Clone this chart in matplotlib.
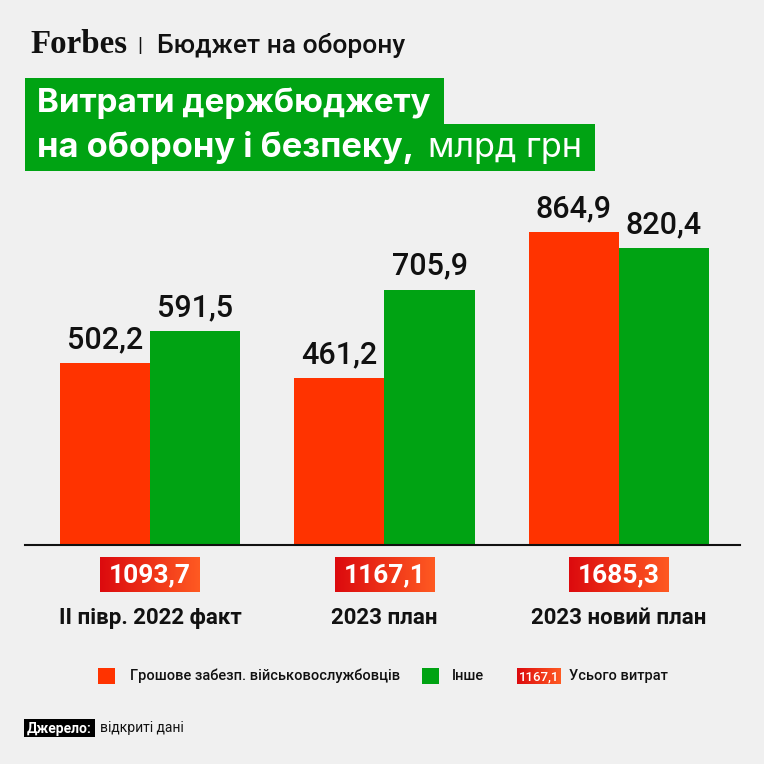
import matplotlib
matplotlib.use('Agg')
import matplotlib.pyplot as plt
import numpy as np
from matplotlib.patches import Rectangle
from matplotlib.colors import LinearSegmentedColormap

# ---- data ----
categories = ['II півр. 2022 факт', '2023 план', '2023 новий план']
pay = [502.2, 461.2, 864.9]
other = [591.5, 705.9, 820.4]
totals = [1093.7, 1167.1, 1685.3]
legend_labels = ['Грошове забезп. військовослужбовців', 'Інше', 'Усього витрат']
legend_total_sample = 1167.1

RED = '#ff3300'
GREEN = '#00a313'
BG = '#f0f0f0'
grad = LinearSegmentedColormap.from_list('g', ['#dc0a0e', '#ff5a22'])

def fmt(v):
    return f'{v:.1f}'.replace('.', ',')

plt.rcParams['font.family'] = ['Roboto', 'DejaVu Sans']
TITLE_FONT = ['Inter', 'Roboto', 'DejaVu Sans']

W = H = 764
fig = plt.figure(figsize=(7.64, 7.64), dpi=100, facecolor=BG)
renderer = fig.canvas.get_renderer()

# ---- bar axes ----
ax_left, ax_right, ax_top, ax_bot = 25, 740, 180, 545
ax = fig.add_axes([ax_left / W, 1 - ax_bot / H, (ax_right - ax_left) / W, (ax_bot - ax_top) / H])
ax.set_facecolor('none')
px_per_unit = 313 / 864.9
ax.set_ylim(0, (ax_bot - ax_top) / px_per_unit)
ax.set_xlim(-0.533, 2.516)
x = np.arange(len(categories))
w = 0.384
b1 = ax.bar(x - w / 2, pay, w, color=RED, linewidth=0)
b2 = ax.bar(x + w / 2, other, w, color=GREEN, linewidth=0)
for bars, vals in ((b1, pay), (b2, other)):
    for r, v in zip(bars, vals):
        ax.annotate(fmt(v), (r.get_x() + r.get_width() / 2, r.get_height()),
                    xytext=(0, 15), textcoords='offset pixels', ha='center', va='baseline',
                    fontsize=22, fontweight='medium', color='#111111')
for s in ['top', 'right', 'left']:
    ax.spines[s].set_visible(False)
ax.spines['bottom'].set_linewidth(1.5)
ax.spines['bottom'].set_color('#111111')
ax.set_xticks([])
ax.set_yticks([])

# ---- overlay axes in pixel coords (y from top) ----
ov = fig.add_axes([0, 0, 1, 1])
ov.set_xlim(0, W)
ov.set_ylim(H, 0)
ov.axis('off')
ov.set_facecolor('none')

gvals = np.linspace(0, 1, 256).reshape(1, -1)

def grad_box(x0, x1, y0, y1):
    ov.imshow(gvals, cmap=grad, extent=[x0, x1, y1, y0], aspect='auto', zorder=2)

def fit(t, target_w):
    e = t.get_window_extent(renderer)
    t.set_fontsize(t.get_fontsize() * target_w / e.width)

# header
fb = ov.text(30, 53, 'Forbes', fontsize=24, fontweight='bold', family=['Liberation Serif'],
             color='#111111', va='baseline', ha='left')
fit(fb, 97)
ov.text(140, 52, '|', fontsize=15, color='#111111', va='baseline', ha='center')
ov.text(157, 53, 'Бюджет на оборону', fontsize=19, fontweight='medium',
        color='#111111', va='baseline', ha='left')

# title boxes
ov.add_patch(Rectangle((25, 78), 419, 46, color=GREEN, lw=0, zorder=1))
ov.add_patch(Rectangle((25, 124), 570, 47, color=GREEN, lw=0, zorder=1))
t1 = ov.text(37, 112, 'Витрати держбюджету', fontsize=22, fontweight='bold', color='white',
             family=TITLE_FONT, va='baseline', ha='left', zorder=3)
fit(t1, 393)
fs = t1.get_fontsize()
t2 = ov.text(37, 157, 'на оборону і безпеку,', fontsize=fs, fontweight='bold', color='white',
             family=TITLE_FONT, va='baseline', ha='left', zorder=3)
fit(t2, 378)
t3 = ov.text(428, 157, 'млрд грн', fontsize=fs, fontweight='normal', color='white',
             family=TITLE_FONT, va='baseline', ha='left', zorder=3)
fit(t3, 154)

# totals and category labels
for i in range(len(categories)):
    cx = ax.transData.transform((x[i], 0))[0]
    t = ov.text(cx, 575, fmt(totals[i]), fontsize=19, fontweight='bold', color='white',
                ha='center', va='center', zorder=3)
    e = t.get_window_extent(renderer)
    pad = 9
    grad_box(e.x0 - pad, e.x1 + pad, 557, 592)
    ov.text(cx, 624, categories[i], fontsize=16, fontweight='bold', color='#111111',
            ha='center', va='baseline', zorder=3)

# legend
ov.add_patch(Rectangle((98, 668), 17, 16, color=RED, lw=0))
ov.text(130, 676, legend_labels[0], fontsize=10.5, fontweight='medium', color='#111111',
        ha='left', va='center')
ov.add_patch(Rectangle((422, 668), 17, 16, color=GREEN, lw=0))
ov.text(452, 676, legend_labels[1], fontsize=10.5, fontweight='medium', color='#111111',
        ha='left', va='center')
grad_box(517, 561, 668, 684)
ov.text(539, 676.5, fmt(legend_total_sample), fontsize=9.5, fontweight='medium', color='white',
        ha='center', va='center', zorder=3)
ov.text(569, 676, legend_labels[2], fontsize=10.5, fontweight='medium', color='#111111',
        ha='left', va='center')

# source
ov.add_patch(Rectangle((24, 719), 71, 18, color='black', lw=0))
ov.text(59.5, 728.5, 'Джерело:', fontsize=10, fontweight='bold', color='white',
        ha='center', va='center', zorder=3)
ov.text(100, 728, 'відкриті дані', fontsize=10, color='#111111', ha='left', va='center')

fig.savefig('out.png', dpi=100, facecolor=BG)
